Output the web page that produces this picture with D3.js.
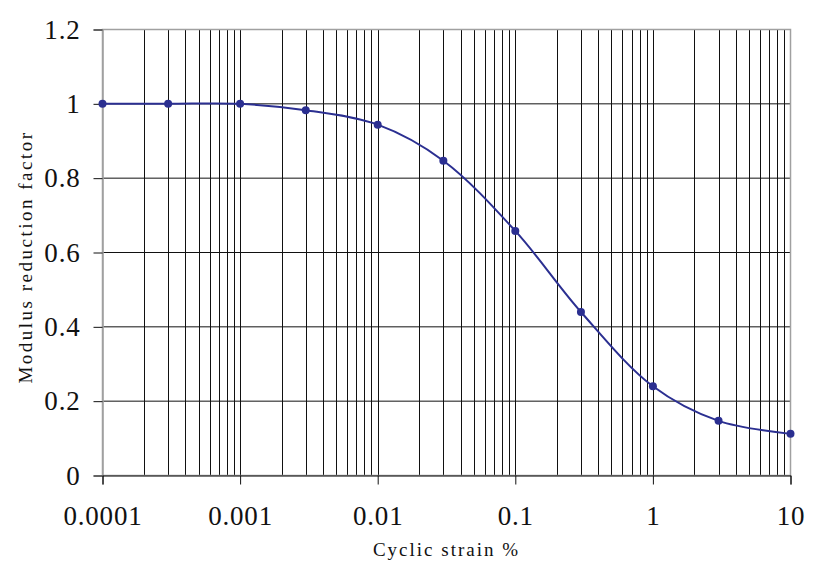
<!DOCTYPE html>
<html>
<head>
<meta charset="utf-8">
<script src="https://cdn.jsdelivr.net/npm/d3@7"></script>
<style>
  body { margin: 0; background: #fff; }
  text { font-family: "Liberation Serif", Tinos, "Times New Roman", serif; fill: #111; }
</style>
</head>
<body>
<div class="chart"></div>
<script>
// Data
const strain = [0.0001, 0.0003, 0.001, 0.003, 0.01, 0.03, 0.1, 0.3, 1, 3, 10];
const modulus = [1, 1, 1, 0.983, 0.944, 0.847, 0.658, 0.44, 0.24, 0.147, 0.112];
const xTicks = [0.0001, 0.001, 0.01, 0.1, 1, 10];
const xTickLabels = ["0.0001", "0.001", "0.01", "0.1", "1", "10"];
const yTicks = [0, 0.2, 0.4, 0.6, 0.8, 1, 1.2];
const yTickLabels = ["0", "0.2", "0.4", "0.6", "0.8", "1", "1.2"];

const width = 831, height = 566;
const margin = { left: 102.5, right: 40.5, top: 29.5, bottom: 90.5 };
const serif = '"Liberation Serif", Tinos, "Times New Roman", serif';

const svg = d3.select(".chart").append("svg")
  .attr("width", width)
  .attr("height", height);

const x = d3.scaleLog()
  .domain([0.0001, 10])
  .range([margin.left, width - margin.right]);

const y = d3.scaleLinear()
  .domain([0, 1.2])
  .range([height - margin.bottom, margin.top]);

// minor + major vertical gridlines (2..9 of each decade)
const minor = [];
for (let e = -4; e < 1; e++) {
  for (let m = 1; m < 10; m++) minor.push(m * Math.pow(10, e));
}

const grid = svg.append("g").attr("class", "grid");
grid.selectAll("line.v")
  .data(minor.filter(d => d > 0.0001))
  .enter().append("line")
  .attr("class", "v")
  .attr("x1", d => Math.round(x(d)) + 0.5)
  .attr("x2", d => Math.round(x(d)) + 0.5)
  .attr("y1", y(1.2))
  .attr("y2", y(0))
  .attr("stroke", "#111")
  .attr("stroke-width", 1);

grid.selectAll("line.h")
  .data(yTicks.filter(d => d > 0 && d < 1.2))
  .enter().append("line")
  .attr("class", "h")
  .attr("x1", x.range()[0])
  .attr("x2", x.range()[1])
  .attr("y1", d => y(d))
  .attr("y2", d => y(d))
  .attr("stroke", "#111")
  .attr("stroke-width", 1);

// plot border (gray, Excel style)
svg.append("rect")
  .attr("x", x.range()[0])
  .attr("y", y(1.2))
  .attr("width", x.range()[1] - x.range()[0])
  .attr("height", y(0) - y(1.2))
  .attr("fill", "none")
  .attr("stroke", "#a0a0a0")
  .attr("stroke-width", 1.5);

// Axes
const yAxis = svg.append("g")
  .attr("transform", `translate(${x.range()[0]},0)`)
  .call(d3.axisLeft(y)
    .tickValues(yTicks)
    .tickFormat((d, i) => yTickLabels[i])
    .tickSize(9)
    .tickPadding(13));

const xAxis = svg.append("g")
  .attr("transform", `translate(0,${y(0)})`)
  .call(d3.axisBottom(x)
    .tickValues(xTicks)
    .tickFormat((d, i) => xTickLabels[i])
    .tickSize(9)
    .tickPadding(21));

[xAxis, yAxis].forEach(a => {
  a.attr("font-family", serif);
  a.select(".domain").attr("stroke", "#a0a0a0").attr("stroke-width", 1.5);
  a.selectAll(".tick line").attr("stroke", "#111");
  a.selectAll(".tick text")
    .style("font-family", serif)
    .style("font-size", "27px")
    .style("letter-spacing", "0.8px")
    .attr("fill", "#111");
});
xAxis.select(".domain").attr("stroke", "#111").attr("stroke-width", 1);

// Axis titles
svg.append("text")
  .attr("x", (x.range()[0] + x.range()[1]) / 2)
  .attr("y", 556)
  .attr("text-anchor", "middle")
  .style("font-size", "19px")
  .style("letter-spacing", "2px")
  .text("Cyclic strain %");

svg.append("text")
  .attr("transform", "translate(32,257) rotate(-90)")
  .attr("text-anchor", "middle")
  .style("font-size", "19px")
  .style("letter-spacing", "2.5px")
  .text("Modulus reduction factor");

// Series
const points = strain.map((d, i) => [d, modulus[i]]);
const line = d3.line()
  .x(d => x(d[0]))
  .y(d => y(d[1]))
  .curve(d3.curveCatmullRom.alpha(0.5));

svg.append("path")
  .datum(points)
  .attr("d", line)
  .attr("fill", "none")
  .attr("stroke", "#2b2f91")
  .attr("stroke-width", 2);

svg.selectAll("circle.pt")
  .data(points)
  .enter().append("circle")
  .attr("class", "pt")
  .attr("cx", d => x(d[0]))
  .attr("cy", d => y(d[1]))
  .attr("r", 4)
  .attr("fill", "#2b2f91");
</script>
</body>
</html>
